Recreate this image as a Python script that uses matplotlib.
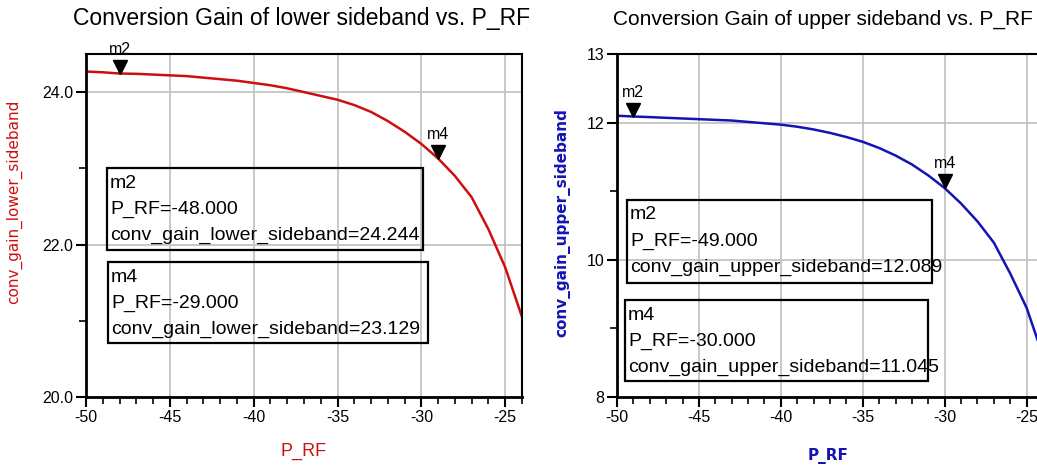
import matplotlib
matplotlib.use("Agg")
from matplotlib import pyplot as plt
from matplotlib import transforms
from matplotlib.patches import Rectangle

# swept RF input power (dBm)
p_rf = [-50, -49, -48, -47, -46, -45, -44, -43, -42, -41, -40, -39, -38,
        -37, -36, -35, -34, -33, -32, -31, -30, -29, -28, -27, -26, -25, -24]

# conversion gain of the lower sideband (dB)
gain_lower = [24.27, 24.26, 24.244, 24.24, 24.23, 24.22, 24.21, 24.19, 24.17,
              24.15, 24.12, 24.09, 24.05, 24.00, 23.95, 23.90, 23.83, 23.74,
              23.62, 23.48, 23.32, 23.129, 22.90, 22.62, 22.20, 21.70, 21.05]

# conversion gain of the upper sideband (dB)
gain_upper = [12.10, 12.089, 12.08, 12.07, 12.06, 12.05, 12.04, 12.03, 12.01,
              11.99, 11.97, 11.94, 11.90, 11.85, 11.79, 11.72, 11.63, 11.52,
              11.39, 11.23, 11.045, 10.82, 10.56, 10.25, 9.80, 9.30, 8.60]

# marker readouts: name, P_RF, value
markers_lower = [("m2", -48, 24.244), ("m4", -29, 23.129)]
markers_upper = [("m2", -49, 12.089), ("m4", -30, 11.045)]

W, H = 1037, 470
sans = ["Liberation Sans", "DejaVu Sans"]

fig = plt.figure(figsize=(W / 100, H / 100), dpi=100)
fig.patch.set_facecolor("white")


def px(x0, y0, x1, y1):
    # pixel box (top-left origin) -> figure fraction rect
    return [x0 / W, 1 - y1 / H, (x1 - x0) / W, (y1 - y0) / H]


def setup(ax, xlim, ylim, yticks, yminor, ylabels):
    ax.set_xlim(*xlim)
    ax.set_ylim(*ylim)
    ax.set_xticks([-50, -45, -40, -35, -30, -25])
    ax.set_xticks(range(-50, -23), minor=True)
    ax.set_yticks(yticks)
    ax.set_yticks(yminor, minor=True)
    ax.set_yticklabels(ylabels, family=sans, fontsize=11.5)
    ax.set_xticklabels(["-50", "-45", "-40", "-35", "-30", "-25"],
                       family=sans, fontsize=11.5)
    ax.tick_params(which="major", direction="out", length=7, width=1.5,
                   color="black", pad=2)
    ax.tick_params(which="minor", direction="out", length=5, width=1.2,
                   color="black")
    ax.grid(True, which="major", color="#c4c4c4", lw=1.3)
    ax.set_axisbelow(True)
    for s in ["left", "bottom"]:
        ax.spines[s].set_linewidth(2)
    for s in ["top", "right"]:
        ax.spines[s].set_linewidth(1.5)


def draw_markers(ax, xs, ys, names):
    tri = transforms.offset_copy(ax.transData, fig=fig, y=5, units="points")
    lab = transforms.offset_copy(ax.transData, fig=fig, y=12, units="points")
    for n, x, y in zip(names, xs, ys):
        ax.plot([x], [y], marker="v", ms=10, color="black", transform=tri,
                clip_on=False, zorder=5)
        ax.text(x, y, n, transform=lab, ha="center", va="bottom",
                family=sans, fontsize=11.5, clip_on=False, zorder=5)


def readout(rect, lines):
    x0, y0, x1, y1 = rect
    fig.add_artist(Rectangle((x0 / W, 1 - y1 / H), (x1 - x0) / W,
                             (y1 - y0) / H, transform=fig.transFigure,
                             fill=False, ec="black", lw=1.6, zorder=6))
    for i, t in enumerate(lines):
        fig.text((x0 + 3) / W, 1 - (y0 + 15 + 26 * i) / H, t,
                 family=sans, fontsize=14, va="center", ha="left",
                 zorder=6)


# lower sideband
ax1 = fig.add_axes(px(86, 54, 522, 397))
setup(ax1, (-50, -24), (20, 24.5), [20, 22, 24], [21, 23],
      ["20.0", "22.0", "24.0"])
ax1.plot(p_rf, gain_lower, color="#cc1010", lw=1.8)
draw_markers(ax1, [m[1] for m in markers_lower], [m[2] for m in markers_lower],
             [m[0] for m in markers_lower])
ax1.set_xlabel("P_RF", color="#cc1010", family=sans, fontsize=13)
ax1.xaxis.set_label_coords(0.5, -0.135)
ax1.set_ylabel("conv_gain_lower_sideband", color="#cc1010", fontsize=11)
ax1.yaxis.set_label_coords(-0.147, 0.57)
fig.text(302 / W, 1 - 19 / H, "Conversion Gain of lower sideband vs. P_RF",
         ha="center", va="center", family=sans, fontsize=16.5)

for (n, x, y), rect in zip(markers_lower,
                           [(107, 168, 423, 250), (108, 262, 428, 343)]):
    readout(rect, [n, "P_RF=%.3f" % x, "conv_gain_lower_sideband=%.3f" % y])

# upper sideband
ax2 = fig.add_axes(px(617, 54, 1043, 397))
setup(ax2, (-50, -24), (8, 13), [8, 10, 12, 13], [9, 11],
      ["8", "10", "12", "13"])
ax2.plot(p_rf, gain_upper, color="#1414b4", lw=1.8)
draw_markers(ax2, [m[1] for m in markers_upper], [m[2] for m in markers_upper],
             [m[0] for m in markers_upper])
ax2.set_xlabel("P_RF", color="#1414b4", fontsize=11, fontweight="bold")
ax2.xaxis.set_label_coords(0.496, -0.149)
ax2.set_ylabel("conv_gain_upper_sideband", color="#1414b4", fontsize=11,
               fontweight="bold")
ax2.yaxis.set_label_coords(-0.11, 0.51)
fig.text(823 / W, 1 - 19 / H, "Conversion Gain of upper sideband vs. P_RF",
         ha="center", va="center", family=sans, fontsize=15)

for (n, x, y), rect in zip(markers_upper,
                           [(627, 200, 932, 283), (625, 300, 928, 381)]):
    readout(rect, [n, "P_RF=%.3f" % x, "conv_gain_upper_sideband=%.3f" % y])

fig.savefig("out.png", dpi=100, facecolor="white")
